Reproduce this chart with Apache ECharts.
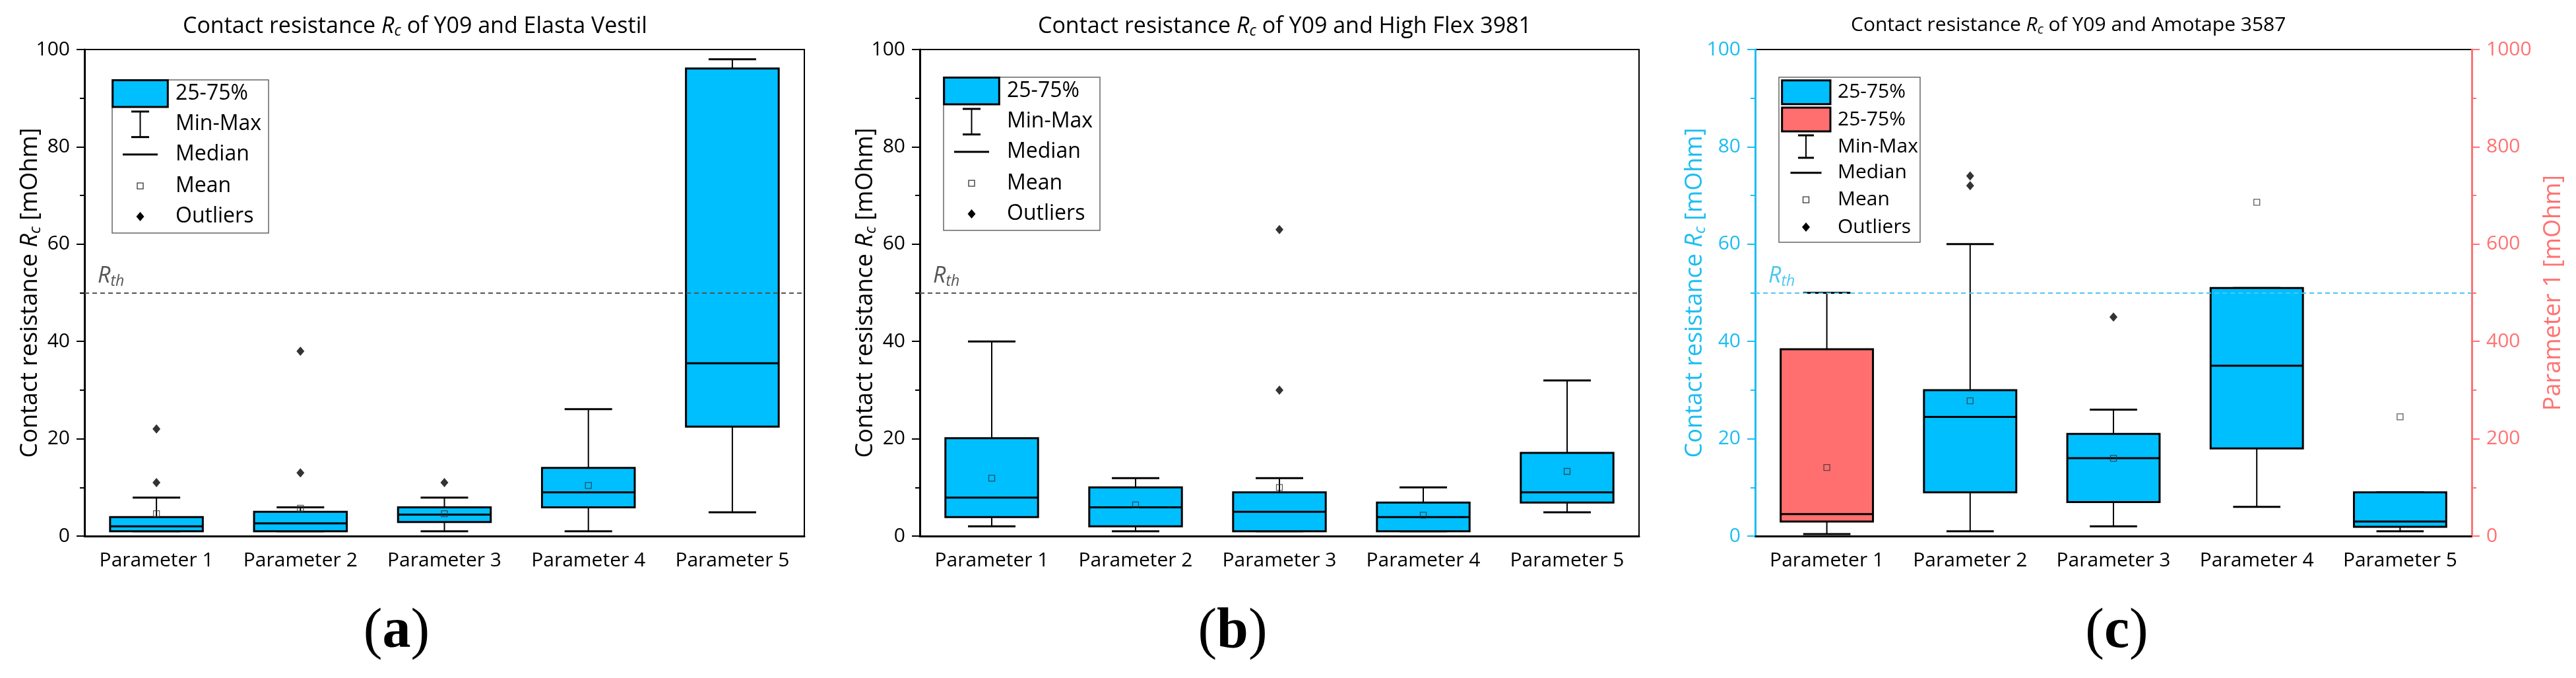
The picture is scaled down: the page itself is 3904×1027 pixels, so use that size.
<!DOCTYPE html>
<html>
<head>
<meta charset="utf-8">
<script src="https://cdn.jsdelivr.net/npm/echarts@6/dist/echarts.min.js"></script>
<style>html,body{margin:0;padding:0;background:#fff;}#chart{width:3904px;height:1027px;}</style>
</head>
<body>
<div id="chart"></div>
<script>
// ---------------- DATA ----------------
const categories = ['Parameter 1', 'Parameter 2', 'Parameter 3', 'Parameter 4', 'Parameter 5'];
// box rows: [min, q1, median, q3, max]
const boxA = [[1.0, 1.0, 2.0, 3.9, 7.9], [1.0, 1.0, 2.6, 5.0, 5.9], [1.0, 2.9, 4.4, 5.9, 7.9], [1.0, 5.9, 9.0, 14.0, 26.1], [4.9, 22.5, 35.5, 96.1, 98.0]];
const meanA = [4.6, 5.7, 4.6, 10.4, null];
const outliersA = [[11, 22], [13, 38], [11], [], []];

const boxB = [[2.0, 3.9, 7.9, 20.1, 40.0], [1.0, 2.0, 5.9, 10.0, 11.9], [1.0, 1.0, 5.0, 9.0, 11.9], [1.0, 1.0, 3.9, 6.9, 10.0], [4.9, 6.9, 9.0, 17.1, 32.0]];
const meanB = [11.9, 6.4, 10.0, 4.3, 13.3];
const outliersB = [[], [], [30, 63], [], []];

// panel c: left axis (0-100) boxes
const boxC = [null, [1.0, 9.0, 24.5, 30.0, 60.0], [2.0, 7.0, 16.0, 21.0, 26.0], [6.0, 18.0, 35.0, 51.0, 51.0], [1.0, 1.9, 3.0, 9.0, 9.0]];
const meanC = [null, 27.8, 16.0, 68.6, 24.5];
const outliersC = [[], [72, 74], [45], [], []];
// panel c: right axis (0-1000) box
const boxCRight = [[4, 30, 45, 384, 500], null, null, null, null];
const meanCRight = [141, null, null, null, null];

const thresholdRth = 50;
const yTicksLeft = { min: 0, max: 100, interval: 20 };
const yTicksRight = { min: 0, max: 1000, interval: 200 };

const titles = ['Elasta Vestil', 'High Flex 3981', 'Amotape 3587'];
const panelLetters = ['a', 'b', 'c'];

// ---------------- STYLE ----------------
const FONT = "'Open Sans', 'Noto Sans', sans-serif";
const BLUE = '#00BFFF';
const RED = '#FF6F6F';
const AXBLUE = '#1CBDF2';
const AXRED = '#FF7272';

function boxData(arr) { return arr.map((b, i) => b ? [i].concat(b) : null).filter(Boolean); }
function meanData(arr) { return arr.map((v, i) => v == null ? null : [i, v]).filter(Boolean); }
function outData(arr) { const r = []; arr.forEach((vs, i) => vs.forEach(v => r.push([i, v]))); return r; }

function renderBox(fill) {
  return function (params, api) {
    const i = api.value(0);
    const bw = api.size([1, 0])[0];
    const x = api.coord([i, 0])[0];
    const yMin = api.coord([i, api.value(1)])[1];
    const yQ1 = api.coord([i, api.value(2)])[1];
    const yMed = api.coord([i, api.value(3)])[1];
    const yQ3 = api.coord([i, api.value(4)])[1];
    const yMax = api.coord([i, api.value(5)])[1];
    const bh = bw * 0.322, ch = bw * 0.165;
    const k = '#000';
    return {
      type: 'group', children: [
        { type: 'line', shape: { x1: x, y1: yMax, x2: x, y2: yQ3 }, style: { stroke: k, lineWidth: 2 } },
        { type: 'line', shape: { x1: x, y1: yQ1, x2: x, y2: yMin }, style: { stroke: k, lineWidth: 2 } },
        { type: 'line', shape: { x1: x - ch, y1: yMax, x2: x + ch, y2: yMax }, style: { stroke: k, lineWidth: 3 } },
        { type: 'line', shape: { x1: x - ch, y1: yMin, x2: x + ch, y2: yMin }, style: { stroke: k, lineWidth: 3 } },
        { type: 'rect', shape: { x: x - bh, y: yQ3, width: 2 * bh, height: yQ1 - yQ3 }, style: { fill: fill, stroke: k, lineWidth: 3 } },
        { type: 'line', shape: { x1: x - bh, y1: yMed, x2: x + bh, y2: yMed }, style: { stroke: k, lineWidth: 3 } }
      ]
    };
  };
}

function richSet(size, color) {
  return {
    n: { fontFamily: FONT, fontSize: size, color: color },
    i: { fontFamily: FONT, fontSize: size, color: color, fontStyle: 'italic' },
    s: { fontFamily: FONT, fontSize: Math.round(size * 0.68), color: color, fontStyle: 'italic', padding: [Math.round(size * 0.45), 0, 0, 0] }
  };
}

const grids = [
  { left: 128, top: 75, width: 1091, height: 737 },
  { left: 1394, top: 75, width: 1090, height: 737 },
  { left: 2660, top: 75, width: 1086, height: 737 }
].map(g => Object.assign({ show: true, borderColor: '#000', borderWidth: 2, backgroundColor: 'transparent' }, g));

const xAxes = [0, 1, 2].map(gi => ({
  type: 'category', gridIndex: gi, data: categories, boundaryGap: true,
  axisLine: { lineStyle: { color: '#000', width: 3 } },
  axisTick: { alignWithLabel: true, length: 12, lineStyle: { color: '#000', width: 2 } },
  axisLabel: { fontFamily: FONT, fontSize: 30, color: '#000', margin: 22, interval: 0 },
  splitLine: { show: false }
}));

function yAxis(gi, ticks, color, name, position, nameGap) {
  return Object.assign({
    type: 'value', gridIndex: gi, position: position,
    name: name, nameLocation: 'middle', nameGap: nameGap, nameRotate: 90, nameMoveOverlap: false,
    nameTextStyle: { color: color, fontFamily: FONT, fontSize: 36, rich: richSet(36, color) },
    axisLine: { show: true, onZero: false, lineStyle: { color: color, width: 3 } },
    axisTick: { show: true, length: 12, lineStyle: { color: color, width: 2 } },
    minorTick: { show: true, splitNumber: 2, length: 7, lineStyle: { color: color, width: 2 } },
    axisLabel: { fontFamily: FONT, fontSize: 30, color: color, margin: 22, formatter: v => String(v) },
    splitLine: { show: false }, minorSplitLine: { show: false }
  }, ticks);
}
const nameRc = '{n|Contact resistance }{i|R}{s|c}{n| [mOhm]}';
const yAxes = [
  yAxis(0, yTicksLeft, '#000', nameRc, 'left', 62),
  yAxis(1, yTicksLeft, '#000', nameRc, 'left', 62),
  yAxis(2, yTicksLeft, AXBLUE, nameRc, 'left', 71),
  yAxis(2, yTicksRight, AXRED, '{n|Parameter 1 [mOhm]}', 'right', 106)
];

function rthMarkLine(color) {
  return {
    silent: true, symbol: ['none', 'none'],
    data: [{ yAxis: thresholdRth }],
    lineStyle: { type: [7, 5], color: color, width: 2 },
    label: {
      show: true, position: 'insideStartTop', distance: [20, 6],
      formatter: '{i|R}{s|th}', rich: richSet(34, color)
    },
    emphasis: { disabled: true }
  };
}

const series = [];
function addPanel(xi, yi, boxes, means, outs, fill, rthColor) {
  series.push({
    type: 'custom', xAxisIndex: xi, yAxisIndex: yi, silent: true, z: 2,
    renderItem: renderBox(fill), data: boxData(boxes), encode: { x: 0, y: [1, 2, 3, 4, 5] }
  });
  const meanSeries = {
    type: 'scatter', xAxisIndex: xi, yAxisIndex: yi, silent: true, z: 5,
    symbol: 'rect', symbolSize: [9, 9],
    itemStyle: { color: 'rgba(0,0,0,0)', borderColor: '#333', borderWidth: 1.3 },
    data: meanData(means)
  };
  if (rthColor) meanSeries.markLine = rthMarkLine(rthColor);
  series.push(meanSeries);
  if (outs) series.push({
    type: 'scatter', xAxisIndex: xi, yAxisIndex: yi, silent: true, z: 5,
    symbol: 'diamond', symbolSize: [12, 14], itemStyle: { color: '#000' },
    data: outData(outs)
  });
}
addPanel(0, 0, boxA, meanA, outliersA, BLUE, '#555');
addPanel(1, 1, boxB, meanB, outliersB, BLUE, '#555');
addPanel(2, 2, boxC, meanC, outliersC, BLUE, '#4CC6F2');
addPanel(2, 3, boxCRight, meanCRight, null, RED, null);

const titleCfg = [
  { left: 272, size: 34 }, { left: 1568, size: 34 }, { left: 2800, size: 30 }
].map((t, k) => ({
  text: '{n|Contact resistance }{i|R}{s|c}{n| of Y09 and ' + titles[k] + '}',
  left: t.left, top: 16,
  textStyle: { fontFamily: FONT, fontSize: t.size, color: '#000', fontWeight: 'normal', rich: richSet(t.size, '#000') }
}));

// ---------------- LEGENDS (graphic) ----------------
function legend(cfg) {
  const el = [];
  el.push({ type: 'rect', shape: { x: cfg.x, y: cfg.y, width: cfg.w, height: cfg.h }, style: { fill: '#fff', stroke: '#666', lineWidth: 1.5 }, z: 10 });
  const cx = cfg.x + cfg.iconX;
  cfg.rows.forEach(r => {
    if (r.kind === 'box') {
      el.push({ type: 'rect', shape: { x: cfg.x + cfg.swX, y: r.y - cfg.swH / 2, width: cfg.swW, height: cfg.swH }, style: { fill: r.fill, stroke: '#000', lineWidth: 3 }, z: 11 });
    } else if (r.kind === 'minmax') {
      el.push({ type: 'line', shape: { x1: cx, y1: r.y - cfg.mmH / 2, x2: cx, y2: r.y + cfg.mmH / 2 }, style: { stroke: '#000', lineWidth: 2 }, z: 11 });
      el.push({ type: 'line', shape: { x1: cx - cfg.mmW, y1: r.y - cfg.mmH / 2, x2: cx + cfg.mmW, y2: r.y - cfg.mmH / 2 }, style: { stroke: '#000', lineWidth: 3 }, z: 11 });
      el.push({ type: 'line', shape: { x1: cx - cfg.mmW, y1: r.y + cfg.mmH / 2, x2: cx + cfg.mmW, y2: r.y + cfg.mmH / 2 }, style: { stroke: '#000', lineWidth: 3 }, z: 11 });
    } else if (r.kind === 'median') {
      el.push({ type: 'line', shape: { x1: cx - cfg.medW, y1: r.y, x2: cx + cfg.medW, y2: r.y }, style: { stroke: '#000', lineWidth: 3 }, z: 11 });
    } else if (r.kind === 'mean') {
      el.push({ type: 'rect', shape: { x: cx - 4.5, y: r.y - 4.5, width: 9, height: 9 }, style: { fill: '#fff', stroke: '#333', lineWidth: 1.3 }, z: 11 });
    } else if (r.kind === 'out') {
      el.push({ type: 'polygon', shape: { points: [[cx, r.y - 7], [cx + 6, r.y], [cx, r.y + 7], [cx - 6, r.y]] }, style: { fill: '#000' }, z: 11 });
    }
    el.push({ type: 'text', x: cfg.x + cfg.textX, y: r.y, style: { text: r.label, fontFamily: FONT, fontSize: cfg.fs, fill: '#000', align: 'left', verticalAlign: 'middle' }, z: 11 });
  });
  return el;
}
const legendAB = (x, y) => ({
  x: x, y: y, w: 237, h: 232, iconX: 42.5, swX: 0.7, swW: 83.6, swH: 40.6, textX: 96, fs: 32, mmW: 13.5, mmH: 38.7, medW: 26.5,
  rows: [
    { kind: 'box', fill: BLUE, label: '25-75%', y: y + 20.7 },
    { kind: 'minmax', label: 'Min-Max', y: y + 67.3 },
    { kind: 'median', label: 'Median', y: y + 113 },
    { kind: 'mean', label: 'Mean', y: y + 160.7 },
    { kind: 'out', label: 'Outliers', y: y + 207 }
  ]
});
const lcY = 117;
const legendCcfg = {
  x: 2696, y: lcY, w: 214, h: 250, iconX: 41, swX: 4.7, swW: 73.3, swH: 36, textX: 89, fs: 30, mmW: 12, mmH: 34, medW: 23.5,
  rows: [
    { kind: 'box', fill: BLUE, label: '25-75%', y: lcY + 22.7 },
    { kind: 'box', fill: RED, label: '25-75%', y: lcY + 64 },
    { kind: 'minmax', label: 'Min-Max', y: lcY + 105 },
    { kind: 'median', label: 'Median', y: lcY + 144.7 },
    { kind: 'mean', label: 'Mean', y: lcY + 185.7 },
    { kind: 'out', label: 'Outliers', y: lcY + 227 }
  ]
};

const letterX = [601, 1868, 3208];
const letters = panelLetters.map((L, k) => ({
  type: 'text', x: letterX[k], y: 958,
  style: {
    text: '{p|(}{b|' + L + '}{p|)}', align: 'center', verticalAlign: 'middle',
    rich: {
      p: { fontFamily: "'Liberation Serif', serif", fontSize: 86, fill: '#000' },
      b: { fontFamily: "'Liberation Serif', serif", fontSize: 86, fontWeight: 'bold', fill: '#000' }
    }
  }
}));

const graphic = [].concat(legend(legendAB(170, 121)), legend(legendAB(1430, 117)), legend(legendCcfg), letters);

const chart = echarts.init(document.getElementById('chart'), null, { renderer: 'canvas' });
chart.setOption({
  animation: false,
  backgroundColor: '#fff',
  title: titleCfg,
  grid: grids,
  xAxis: xAxes,
  yAxis: yAxes,
  series: series,
  graphic: graphic
});
</script>
</body>
</html>
